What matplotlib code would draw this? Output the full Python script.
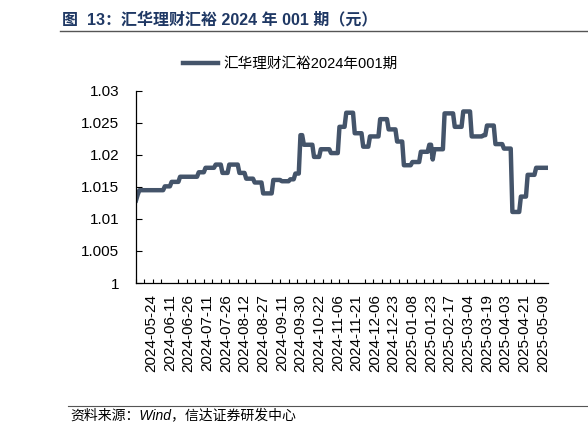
import matplotlib
matplotlib.use("Agg")
import matplotlib.pyplot as plt

plt.rcParams['font.family'] = ['Liberation Sans', 'Noto Sans CJK SC']

# daily net value, one entry per trading day
nav = [
    1.0129, 1.0138,
    1.0145, 1.0145, 1.0145, 1.0145, 1.0145, 1.0145, 1.0145, 1.0145, 1.0145, 1.0145,
    1.0145, 1.0145, 1.0145, 1.0145, 1.0145,
    1.0151, 1.0151, 1.0151, 1.0151,
    1.0158, 1.0158, 1.0158, 1.0158, 1.0158,
    1.0166, 1.0166, 1.0166, 1.0166, 1.0166, 1.0166, 1.0166, 1.0166, 1.0166, 1.0166, 1.0166,
    1.0173, 1.0173, 1.0173, 1.0173,
    1.0180, 1.0180, 1.0180, 1.0180, 1.0180, 1.0180,
    1.0185, 1.0185, 1.0185, 1.0185,
    1.0172, 1.0172, 1.0172, 1.0172,
    1.0185, 1.0185, 1.0185, 1.0185, 1.0185, 1.0185,
    1.0172, 1.0172, 1.0172, 1.0172,
    1.0163, 1.0163, 1.0163, 1.0163, 1.0163,
    1.0157, 1.0157, 1.0157, 1.0157, 1.0157,
    1.0140, 1.0140, 1.0140, 1.0140, 1.0140, 1.0140,
    1.0161, 1.0161, 1.0161, 1.0161, 1.0161,
    1.0159, 1.0159, 1.0159, 1.0159, 1.0159,
    1.0162, 1.0162, 1.0162,
    1.0171, 1.0171, 1.0171,
    1.0231, 1.0231,
    1.0216, 1.0216, 1.0216, 1.0216, 1.0216, 1.0216,
    1.0197, 1.0197, 1.0197, 1.0197,
    1.0209, 1.0209, 1.0209, 1.0209, 1.0209, 1.0209,
    1.0203, 1.0203, 1.0203, 1.0203, 1.0203,
    1.0244, 1.0244, 1.0244, 1.0244,
    1.0266, 1.0266, 1.0266, 1.0266, 1.0266,
    1.0234, 1.0234, 1.0234, 1.0234, 1.0234,
    1.0213, 1.0213, 1.0213, 1.0213,
    1.0229, 1.0229, 1.0229, 1.0229, 1.0229, 1.0229,
    1.0256, 1.0256, 1.0256, 1.0256, 1.0256,
    1.0240, 1.0240, 1.0240, 1.0240, 1.0240,
    1.0221, 1.0221, 1.0221, 1.0221,
    1.0184, 1.0184, 1.0184, 1.0184, 1.0184,
    1.0189, 1.0189, 1.0189, 1.0189, 1.0189,
    1.0205, 1.0205, 1.0205, 1.0205, 1.0205,
    1.0216, 1.0216,
    1.0193,
    1.0209, 1.0209, 1.0209, 1.0209, 1.0209, 1.0209,
    1.0265, 1.0265, 1.0265, 1.0265, 1.0265, 1.0265,
    1.0244, 1.0244, 1.0244, 1.0244, 1.0244,
    1.0268, 1.0268, 1.0268, 1.0268, 1.0268,
    1.0229, 1.0229, 1.0229, 1.0229, 1.0229, 1.0229, 1.0229,
    1.0231, 1.0231,
    1.0246, 1.0246, 1.0246, 1.0246, 1.0246,
    1.0217, 1.0217, 1.0217, 1.0217, 1.0217,
    1.0210, 1.0210, 1.0210, 1.0210, 1.0210,
    1.0111, 1.0111, 1.0111, 1.0111, 1.0111,
    1.0135, 1.0135, 1.0135, 1.0135,
    1.0169, 1.0169, 1.0169, 1.0169, 1.0169,
    1.0180, 1.0180, 1.0180, 1.0180, 1.0180, 1.0180, 1.0180,
]

date_labels = [
    '2024-05-24', '2024-06-11', '2024-06-26', '2024-07-11', '2024-07-26',
    '2024-08-12', '2024-08-27', '2024-09-11', '2024-09-30', '2024-10-22',
    '2024-11-06', '2024-11-21', '2024-12-06', '2024-12-23', '2025-01-08',
    '2025-01-23', '2025-02-17', '2025-03-04', '2025-03-19', '2025-04-03',
    '2025-04-21', '2025-05-09',
]

y_ticks = [1.0, 1.005, 1.01, 1.015, 1.02, 1.025, 1.03]
y_labels = ['1', '1.005', '1.01', '1.015', '1.02', '1.025', '1.03']

series_name = '汇华理财汇裕2024年001期'
line_color = '#44546A'

fig = plt.figure(figsize=(5.88, 4.37), dpi=100)
ax = fig.add_axes([0.2313, 0.3524, 0.7007, 0.4394])

x = list(range(len(nav)))
line, = ax.plot(x, nav, color=line_color, linewidth=3.2, solid_joinstyle='round')

ax.set_xlim(0, len(nav))
ax.set_ylim(1.0, 1.03)
ax.set_yticks(y_ticks, y_labels)

label_pos = [9 + 11 * i for i in range(len(date_labels))]
ax.set_xticks(label_pos, date_labels, rotation=90)
ax.set_xticks(range(0, len(nav) + 1, 5), minor=True)
ax.tick_params(axis='x', which='major', length=0, pad=8, labelsize=11)
ax.tick_params(axis='x', which='minor', direction='in', length=3, width=0.8)
ax.tick_params(axis='y', direction='in', length=4, width=0.8, labelsize=11, pad=12)

for s in ['top', 'right']:
    ax.spines[s].set_visible(False)
for s in ['left', 'bottom']:
    ax.spines[s].set_color('black')
    ax.spines[s].set_linewidth(0.9)

ax.legend([line], [series_name], loc='center left', bbox_to_anchor=(0.114, 1.14),
          frameon=False, fontsize=10.5, handlelength=2.4, handletextpad=0.4,
          borderaxespad=0, borderpad=0)

# title and source
fig.text(62 / 588, 1 - 19 / 437, '图  13：汇华理财汇裕 2024 年 001 期（元）',
         fontsize=11.5, fontweight='bold', color='#1F3864', va='center', ha='left')
fig.add_artist(plt.Line2D([60 / 588, 1.0], [1 - 31 / 437, 1 - 31 / 437],
                          color='#555555', linewidth=1.0))
fig.add_artist(plt.Line2D([68 / 588, 1.0], [1 - 406 / 437, 1 - 406 / 437],
                          color='#555555', linewidth=0.8))
fig.text(70 / 588, 1 - 415 / 437, '资料来源：Wind，信达证券研发中心',
         fontsize=10, style='italic', color='black', va='center', ha='left')

fig.savefig('out.png', dpi=100)
